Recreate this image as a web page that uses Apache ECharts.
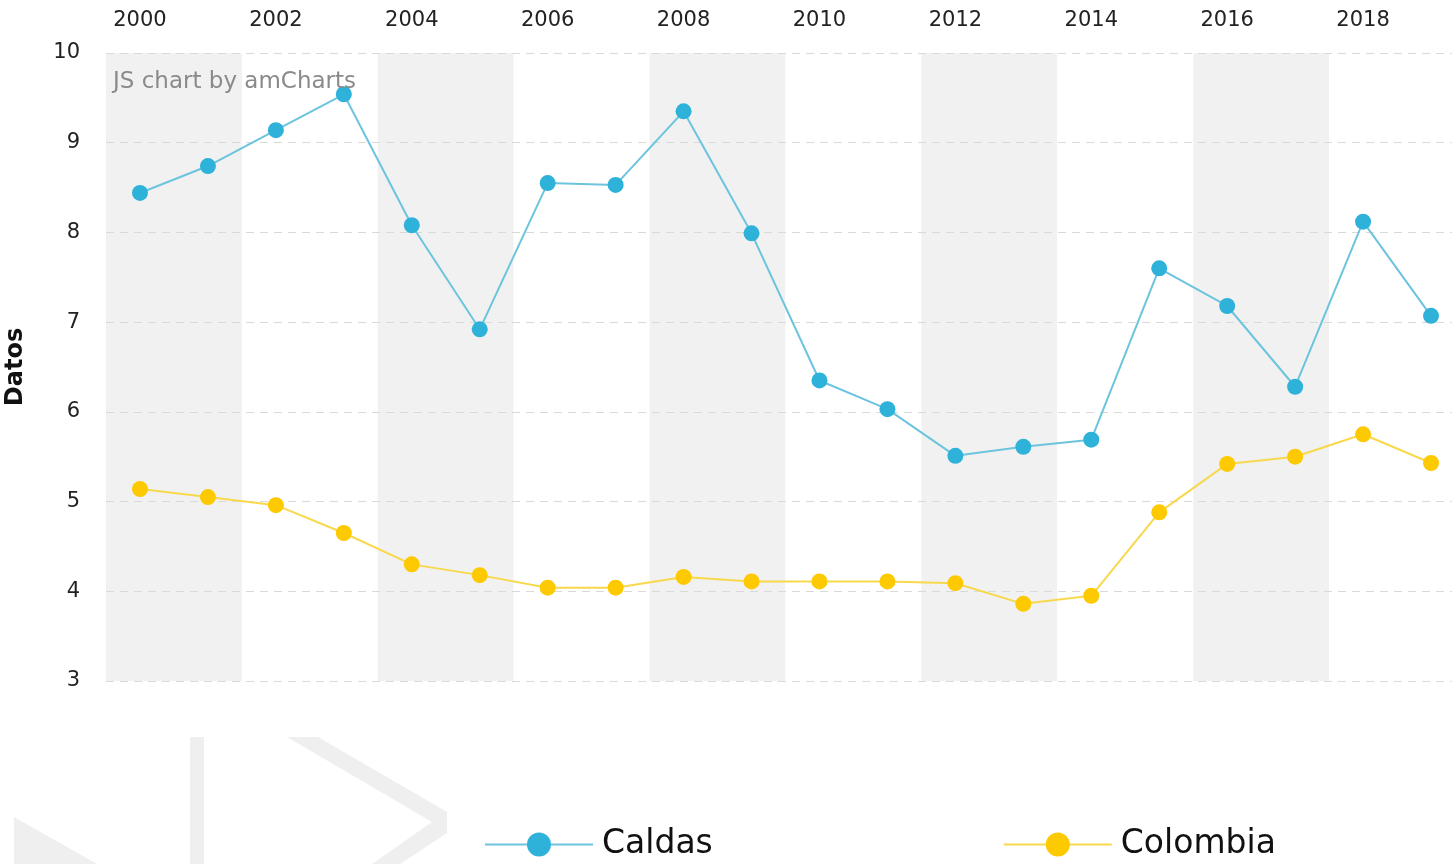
<!DOCTYPE html>
<html>
<head>
<meta charset="UTF-8">
<title>Caldas vs Colombia</title>
<script src="https://cdn.jsdelivr.net/npm/echarts@6/dist/echarts.min.js"></script>
<style>
  html, body { margin: 0; padding: 0; background: #fff; overflow: hidden; }
  #chart { width: 1452px; height: 864px; }
</style>
</head>
<body>
<div id="chart"></div>
<script>
// años (eje x arriba)
var years = ['2000', '2001', '2002', '2003', '2004', '2005', '2006', '2007', '2008', '2009',
             '2010', '2011', '2012', '2013', '2014', '2015', '2016', '2017', '2018', '2019'];

// datos
var caldas = [8.44, 8.74, 9.14, 9.54, 8.08, 6.92, 8.55, 8.53, 9.35, 7.99,
              6.35, 6.03, 5.51, 5.61, 5.69, 7.60, 7.18, 6.28, 8.12, 7.07];
var colombia = [5.14, 5.05, 4.96, 4.65, 4.30, 4.18, 4.04, 4.04, 4.16, 4.11,
                4.11, 4.11, 4.09, 3.86, 3.95, 4.88, 5.42, 5.50, 5.75, 5.43];

var font = 'DejaVu Sans, Verdana, sans-serif';
var chart = echarts.init(document.getElementById('chart'));

var option = {
  animation: false,
  backgroundColor: '#fff',
  // el área de trazado se sale un poco por la derecha, como en el original
  grid: { left: 106, width: 1359, top: 53, bottom: 183, outerBoundsMode: 'none', containLabel: false },
  // marcas de agua y texto de amCharts
  graphic: [
    { type: 'rect', z: 0, shape: { x: 190, y: 737, width: 14, height: 130 }, style: { fill: '#efefef' } },
    { type: 'polygon', z: 0,
      shape: { points: [[287, 737], [318, 737], [447, 812], [447, 833], [400, 864], [372, 864], [432, 822]] },
      style: { fill: '#efefef' } },
    { type: 'polygon', z: 0, shape: { points: [[14, 817], [97, 864], [14, 864]] }, style: { fill: '#efefef' } },
    { type: 'text', z: 10, left: 113, top: 71,
      style: { text: 'JS chart by amCharts', fill: '#8a8a8a', font: '23px ' + font } }
  ],
  legend: {
    left: 479,
    top: 823,
    itemWidth: 108,
    itemHeight: 30,
    itemGap: 290,
    textStyle: { fontFamily: font, fontSize: 33, color: '#111', padding: [0, 0, 0, 4] },
    data: ['Caldas', 'Colombia']
  },
  xAxis: {
    type: 'category',
    position: 'top',
    data: years,
    boundaryGap: true,
    axisLine: { show: false },
    axisTick: { show: false },
    axisLabel: { interval: 1, fontFamily: font, fontSize: 21, color: '#222', margin: 22 },
    splitLine: { show: false },
    splitArea: { show: true, interval: 1, areaStyle: { color: ['#f1f1f1', '#ffffff'] } }
  },
  yAxis: {
    type: 'value',
    min: 3,
    max: 10,
    interval: 1,
    name: 'Datos',
    nameLocation: 'middle',
    nameGap: 78,
    nameTextStyle: { fontFamily: font, fontSize: 24, fontWeight: 'bold', color: '#111' },
    axisLine: { show: false },
    axisTick: { show: false },
    axisLabel: { fontFamily: font, fontSize: 21, color: '#222', margin: 26 },
    splitLine: { show: true, lineStyle: { color: '#d9d9d9', type: [8, 6], width: 1 } },
    z: 2
  },
  series: [{
    name: 'Caldas',
    type: 'line',
    data: caldas,
    symbol: 'circle',
    symbolSize: 16,
    itemStyle: { color: '#2fb2da' },
    lineStyle: { color: '#6cc4de', width: 2 },
    z: 3
  }, {
    name: 'Colombia',
    type: 'line',
    data: colombia,
    symbol: 'circle',
    symbolSize: 16,
    itemStyle: { color: '#fdc900' },
    lineStyle: { color: '#f8d84c', width: 2 },
    z: 3
  }]
};

chart.setOption(option);
</script>
</body>
</html>
